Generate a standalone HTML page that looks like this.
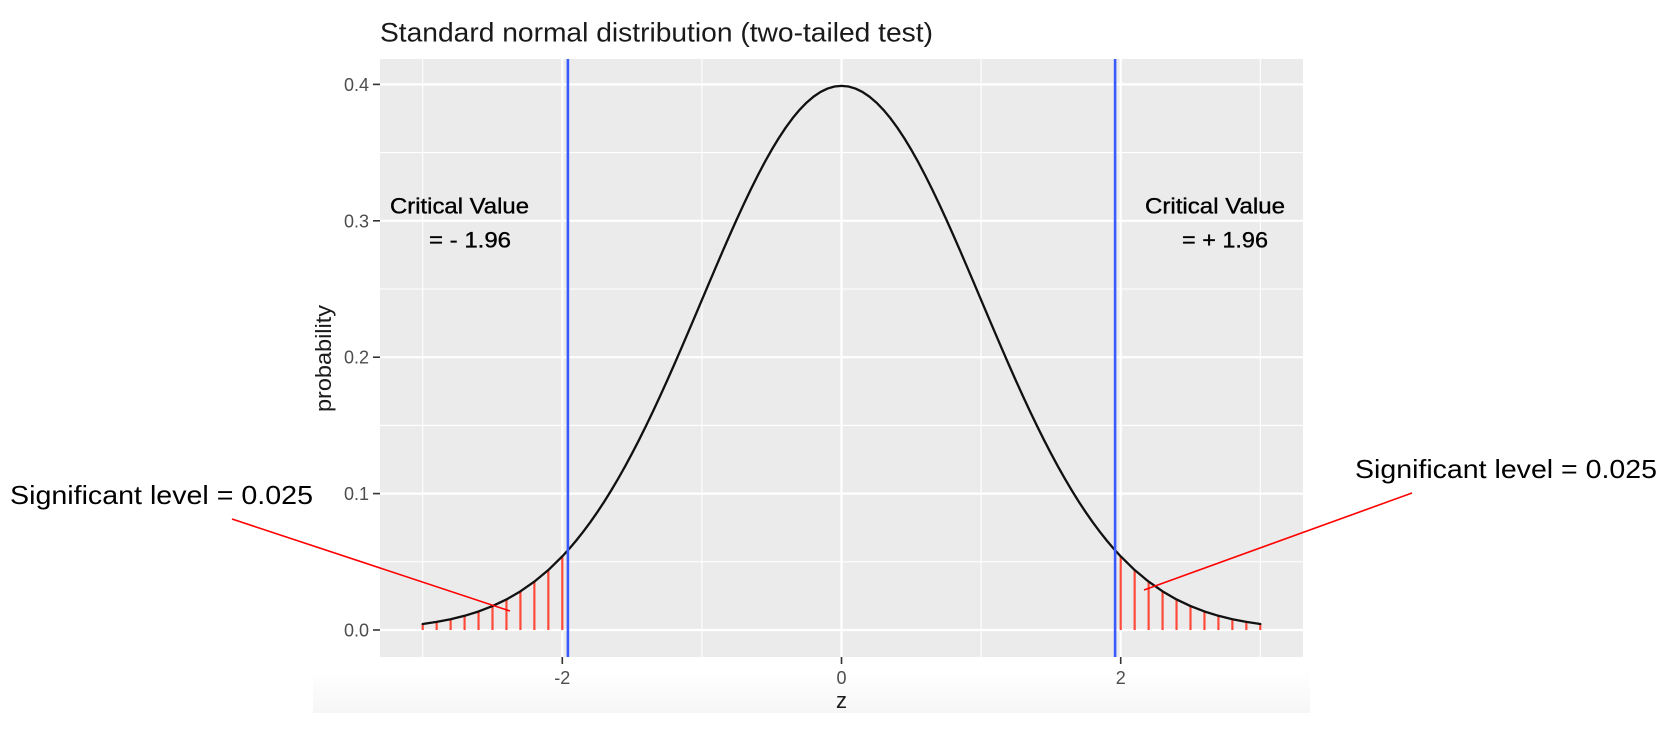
<!DOCTYPE html>
<html><head><meta charset="utf-8"><style>
html,body{margin:0;padding:0;background:#fff;}
svg{display:block;}
text{font-family:"Liberation Sans",Arial,sans-serif;}
</style></head><body>
<svg width="1677" height="748" viewBox="0 0 1677 748" xmlns="http://www.w3.org/2000/svg">
<defs>
<linearGradient id="bg" x1="0" y1="0" x2="0" y2="1">
<stop offset="0" stop-color="#ffffff"/><stop offset="1" stop-color="#f6f6f6"/>
</linearGradient>
</defs>
<rect width="1677" height="748" fill="#fff"/>
<rect x="313" y="670" width="997" height="43" fill="url(#bg)"/>
<!-- title -->
<text x="380" y="41.5" font-size="27" fill="#1a1a1a" textLength="553" lengthAdjust="spacingAndGlyphs">Standard normal distribution (two-tailed test)</text>
<!-- panel -->
<rect x="380" y="59" width="923" height="598" fill="#ebebeb"/>
<g stroke="#fff" fill="none">
<g stroke-width="1.1">
<line x1="380" x2="1303" y1="561.8" y2="561.8"/>
<line x1="380" x2="1303" y1="425.4" y2="425.4"/>
<line x1="380" x2="1303" y1="289" y2="289"/>
<line x1="380" x2="1303" y1="152.6" y2="152.6"/>
<line y1="59" y2="657" x1="422.7" x2="422.7"/>
<line y1="59" y2="657" x1="701.9" x2="701.9"/>
<line y1="59" y2="657" x1="981.1" x2="981.1"/>
<line y1="59" y2="657" x1="1260.3" x2="1260.3"/>
</g>
<g stroke-width="2.2">
<line x1="380" x2="1303" y1="630" y2="630"/>
<line x1="380" x2="1303" y1="493.6" y2="493.6"/>
<line x1="380" x2="1303" y1="357.2" y2="357.2"/>
<line x1="380" x2="1303" y1="220.8" y2="220.8"/>
<line x1="380" x2="1303" y1="84.4" y2="84.4"/>
<line y1="59" y2="657" x1="562.3" x2="562.3"/>
<line y1="59" y2="657" x1="841.5" x2="841.5"/>
<line y1="59" y2="657" x1="1120.7" x2="1120.7"/>
</g>
</g>
<!-- red segments -->
<g transform="translate(841.5,630) scale(139.6,-1364)" stroke="#ff4a3a" stroke-width="2.2" fill="none">
<line vector-effect="non-scaling-stroke" x1="-3" x2="-3" y1="0" y2="0.00443"/>
<line vector-effect="non-scaling-stroke" x1="-2.9" x2="-2.9" y1="0" y2="0.00595"/>
<line vector-effect="non-scaling-stroke" x1="-2.8" x2="-2.8" y1="0" y2="0.00792"/>
<line vector-effect="non-scaling-stroke" x1="-2.7" x2="-2.7" y1="0" y2="0.01042"/>
<line vector-effect="non-scaling-stroke" x1="-2.6" x2="-2.6" y1="0" y2="0.01358"/>
<line vector-effect="non-scaling-stroke" x1="-2.5" x2="-2.5" y1="0" y2="0.01753"/>
<line vector-effect="non-scaling-stroke" x1="-2.4" x2="-2.4" y1="0" y2="0.02239"/>
<line vector-effect="non-scaling-stroke" x1="-2.3" x2="-2.3" y1="0" y2="0.02833"/>
<line vector-effect="non-scaling-stroke" x1="-2.2" x2="-2.2" y1="0" y2="0.03547"/>
<line vector-effect="non-scaling-stroke" x1="-2.1" x2="-2.1" y1="0" y2="0.04398"/>
<line vector-effect="non-scaling-stroke" x1="-2" x2="-2" y1="0" y2="0.05399"/>
<line vector-effect="non-scaling-stroke" x1="3" x2="3" y1="0" y2="0.00443"/>
<line vector-effect="non-scaling-stroke" x1="2.9" x2="2.9" y1="0" y2="0.00595"/>
<line vector-effect="non-scaling-stroke" x1="2.8" x2="2.8" y1="0" y2="0.00792"/>
<line vector-effect="non-scaling-stroke" x1="2.7" x2="2.7" y1="0" y2="0.01042"/>
<line vector-effect="non-scaling-stroke" x1="2.6" x2="2.6" y1="0" y2="0.01358"/>
<line vector-effect="non-scaling-stroke" x1="2.5" x2="2.5" y1="0" y2="0.01753"/>
<line vector-effect="non-scaling-stroke" x1="2.4" x2="2.4" y1="0" y2="0.02239"/>
<line vector-effect="non-scaling-stroke" x1="2.3" x2="2.3" y1="0" y2="0.02833"/>
<line vector-effect="non-scaling-stroke" x1="2.2" x2="2.2" y1="0" y2="0.03547"/>
<line vector-effect="non-scaling-stroke" x1="2.1" x2="2.1" y1="0" y2="0.04398"/>
<line vector-effect="non-scaling-stroke" x1="2" x2="2" y1="0" y2="0.05399"/>
</g>
<!-- curve -->
<g transform="translate(841.5,630) scale(139.6,-1364)" fill="none">
<polyline vector-effect="non-scaling-stroke" stroke="#111" stroke-width="2.3" stroke-linejoin="round" stroke-linecap="round" points="-3,0.00443 -2.9,0.00595 -2.8,0.00792 -2.7,0.01042 -2.6,0.01358 -2.5,0.01753 -2.4,0.02239 -2.3,0.02833 -2.2,0.03547 -2.1,0.04398 -2,0.05399 -1.95,0.059591 -1.9,0.06562 -1.85,0.072067 -1.8,0.07895 -1.75,0.086277 -1.7,0.09405 -1.65,0.102267 -1.6,0.11092 -1.55,0.120009 -1.5,0.12952 -1.45,0.139437 -1.4,0.14973 -1.35,0.160386 -1.3,0.17137 -1.25,0.182649 -1.2,0.19419 -1.15,0.205941 -1.1,0.21785 -1.05,0.229888 -1,0.24197 -0.95,0.254059 -0.9,0.26609 -0.85,0.277985 -0.8,0.28969 -0.75,0.301137 -0.7,0.31225 -0.65,0.32297 -0.6,0.33322 -0.55,0.342944 -0.5,0.35207 -0.45,0.360527 -0.4,0.36827 -0.35,0.37524 -0.3,0.38139 -0.25,0.386668 -0.2,0.39104 -0.15,0.394479 -0.1,0.39695 -0.05,0.398444 0,0.39894 0.05,0.398444 0.1,0.39695 0.15,0.394479 0.2,0.39104 0.25,0.386668 0.3,0.38139 0.35,0.37524 0.4,0.36827 0.45,0.360527 0.5,0.35207 0.55,0.342944 0.6,0.33322 0.65,0.32297 0.7,0.31225 0.75,0.301137 0.8,0.28969 0.85,0.277985 0.9,0.26609 0.95,0.254059 1,0.24197 1.05,0.229888 1.1,0.21785 1.15,0.205941 1.2,0.19419 1.25,0.182649 1.3,0.17137 1.35,0.160386 1.4,0.14973 1.45,0.139437 1.5,0.12952 1.55,0.120009 1.6,0.11092 1.65,0.102267 1.7,0.09405 1.75,0.086277 1.8,0.07895 1.85,0.072067 1.9,0.06562 1.95,0.059591 2,0.05399 2.1,0.04398 2.2,0.03547 2.3,0.02833 2.4,0.02239 2.5,0.01753 2.6,0.01358 2.7,0.01042 2.8,0.00792 2.9,0.00595 3,0.00443"/>
</g>
<!-- blue lines -->
<line x1="567.9" x2="567.9" y1="59" y2="657" stroke="#3b5bff" stroke-width="2.6"/>
<line x1="1115.1" x2="1115.1" y1="59" y2="657" stroke="#3b5bff" stroke-width="2.6"/>
<!-- axis ticks -->
<g stroke="#333" stroke-width="1.6">
<line x1="373" x2="380" y1="630" y2="630"/>
<line x1="373" x2="380" y1="493.6" y2="493.6"/>
<line x1="373" x2="380" y1="357.2" y2="357.2"/>
<line x1="373" x2="380" y1="220.8" y2="220.8"/>
<line x1="373" x2="380" y1="84.4" y2="84.4"/>
<line x1="562.3" x2="562.3" y1="657" y2="664"/>
<line x1="841.5" x2="841.5" y1="657" y2="664"/>
<line x1="1120.7" x2="1120.7" y1="657" y2="664"/>
</g>
<g font-size="18" fill="#4d4d4d" text-anchor="end">
<text x="369" y="636.5">0.0</text>
<text x="369" y="500.1">0.1</text>
<text x="369" y="363.7">0.2</text>
<text x="369" y="227.3">0.3</text>
<text x="369" y="90.9">0.4</text>
</g>
<g font-size="18" fill="#4d4d4d" text-anchor="middle">
<text x="562.3" y="684">-2</text>
<text x="841.5" y="684">0</text>
<text x="1120.7" y="684">2</text>
</g>
<text x="841.5" y="708" font-size="22" fill="#1a1a1a" text-anchor="middle">z</text>
<text transform="translate(331,358.5) rotate(-90)" font-size="22" fill="#1a1a1a" text-anchor="middle" textLength="107" lengthAdjust="spacingAndGlyphs">probability</text>
<!-- critical value annotations -->
<g font-size="22" fill="#000" stroke="#000" stroke-width="0.35">
<text x="390" y="213.5" textLength="139" lengthAdjust="spacingAndGlyphs">Critical Value</text>
<text x="429" y="247.5" textLength="82" lengthAdjust="spacingAndGlyphs">= - 1.96</text>
<text x="1145" y="213.5" textLength="140" lengthAdjust="spacingAndGlyphs">Critical Value</text>
<text x="1182" y="247.5" textLength="86" lengthAdjust="spacingAndGlyphs">= + 1.96</text>
</g>
<!-- significance annotations -->
<g font-size="26" fill="#000">
<text x="10" y="504" textLength="303" lengthAdjust="spacingAndGlyphs">Significant level = 0.025</text>
<text x="1355" y="478" textLength="302" lengthAdjust="spacingAndGlyphs">Significant level = 0.025</text>
</g>
<line x1="232" y1="519" x2="510" y2="611" stroke="#ff0000" stroke-width="1.6"/>
<line x1="1144" y1="590" x2="1412" y2="493" stroke="#ff0000" stroke-width="1.6"/>
</svg>
</body></html>
